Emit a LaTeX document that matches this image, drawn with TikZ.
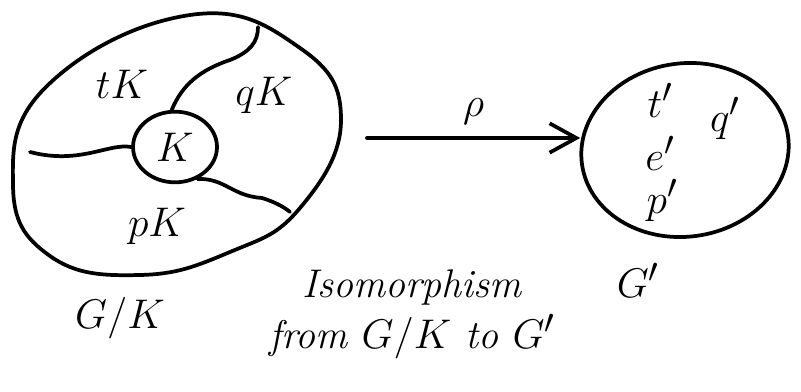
\documentclass[tikz,border=0pt]{standalone}
\usepackage{amsmath,amssymb}
\usepackage{graphicx}
\usepackage{tikz}
\usetikzlibrary{arrows.meta,positioning,shapes.geometric}
\definecolor{ink}{HTML}{000000}
\newcommand{\hand}[1]{\scalebox{1.25}{#1}}

\begin{document}
\begin{tikzpicture}[
  x=0.75pt,y=-0.75pt,
  stroke/.style={draw=ink,line width=2.8pt,line cap=round,line join=round},
  lbl/.style={font=\Huge,inner sep=1pt},
  note/.style={font=\fontsize{30}{32}\selectfont\itshape,inner sep=1pt},
  arr/.style={stroke,-{Straight Barb[length=20pt,width=22pt,line width=2.8pt]}}]
\useasboundingbox (0,0) rectangle (801,392);
% quotient group G/K
\draw[stroke] plot[smooth cycle,tension=0.75] coordinates {(190,15) (300,48) (341,120) (300,208) (230,252) (140,275) (50,256) (13,185) (48,85)};
\node[stroke,ellipse,minimum width=63pt,minimum height=53pt,inner sep=0pt] (K) at (175,147) {};
\node[lbl] (Klbl) at (K) {\hand{$K$}};
\draw[stroke] (K.95) .. controls (182,85) and (200,70) .. (230,60) .. controls (250,52) and (258,42) .. (258,27);
\draw[stroke] (K.180) .. controls (108,143) and (80,165) .. (30,152);
\draw[stroke] (K.-55) .. controls (225,178) and (232,196) .. (262,198) .. controls (275,202) and (284,207) .. (290,212);
\node[lbl] (tK) at (122,84) {\hand{$tK$}};
\node[lbl] (qK) at (264,95) {\hand{$qK$}};
\node[lbl] (pK) at (157,226) {\hand{$pK$}};
\node[lbl] (GK) at (120,318) {\hand{$G/K$}};
% image group G'
\node[stroke,ellipse,minimum width=156pt,minimum height=130pt,rotate=8] (Gp) at (685,150) {};
\node[lbl] (tp) at (660,100) {\hand{$t'$}};
\node[lbl] (qp) at (725,118) {\hand{$q'$}};
\node[lbl] (ep) at (660,153) {\hand{$e'$}};
\node[lbl] (pp) at (662,200) {\hand{$p'$}};
\node[lbl] (Gplbl) at (638,280) {\hand{$G'$}};
% the map
\coordinate (src) at (367,138);
\draw[arr] (src) -- node[lbl,above=8pt] (rho) {\hand{$\rho$}} (Gp.west |- src);
\node[note] (iso) at (412,288) {Isomorphism};
\node[note,below=4pt of iso] (from) {from \hand{$G/K$} to \hand{$G'$}};
\end{tikzpicture}
\end{document}
